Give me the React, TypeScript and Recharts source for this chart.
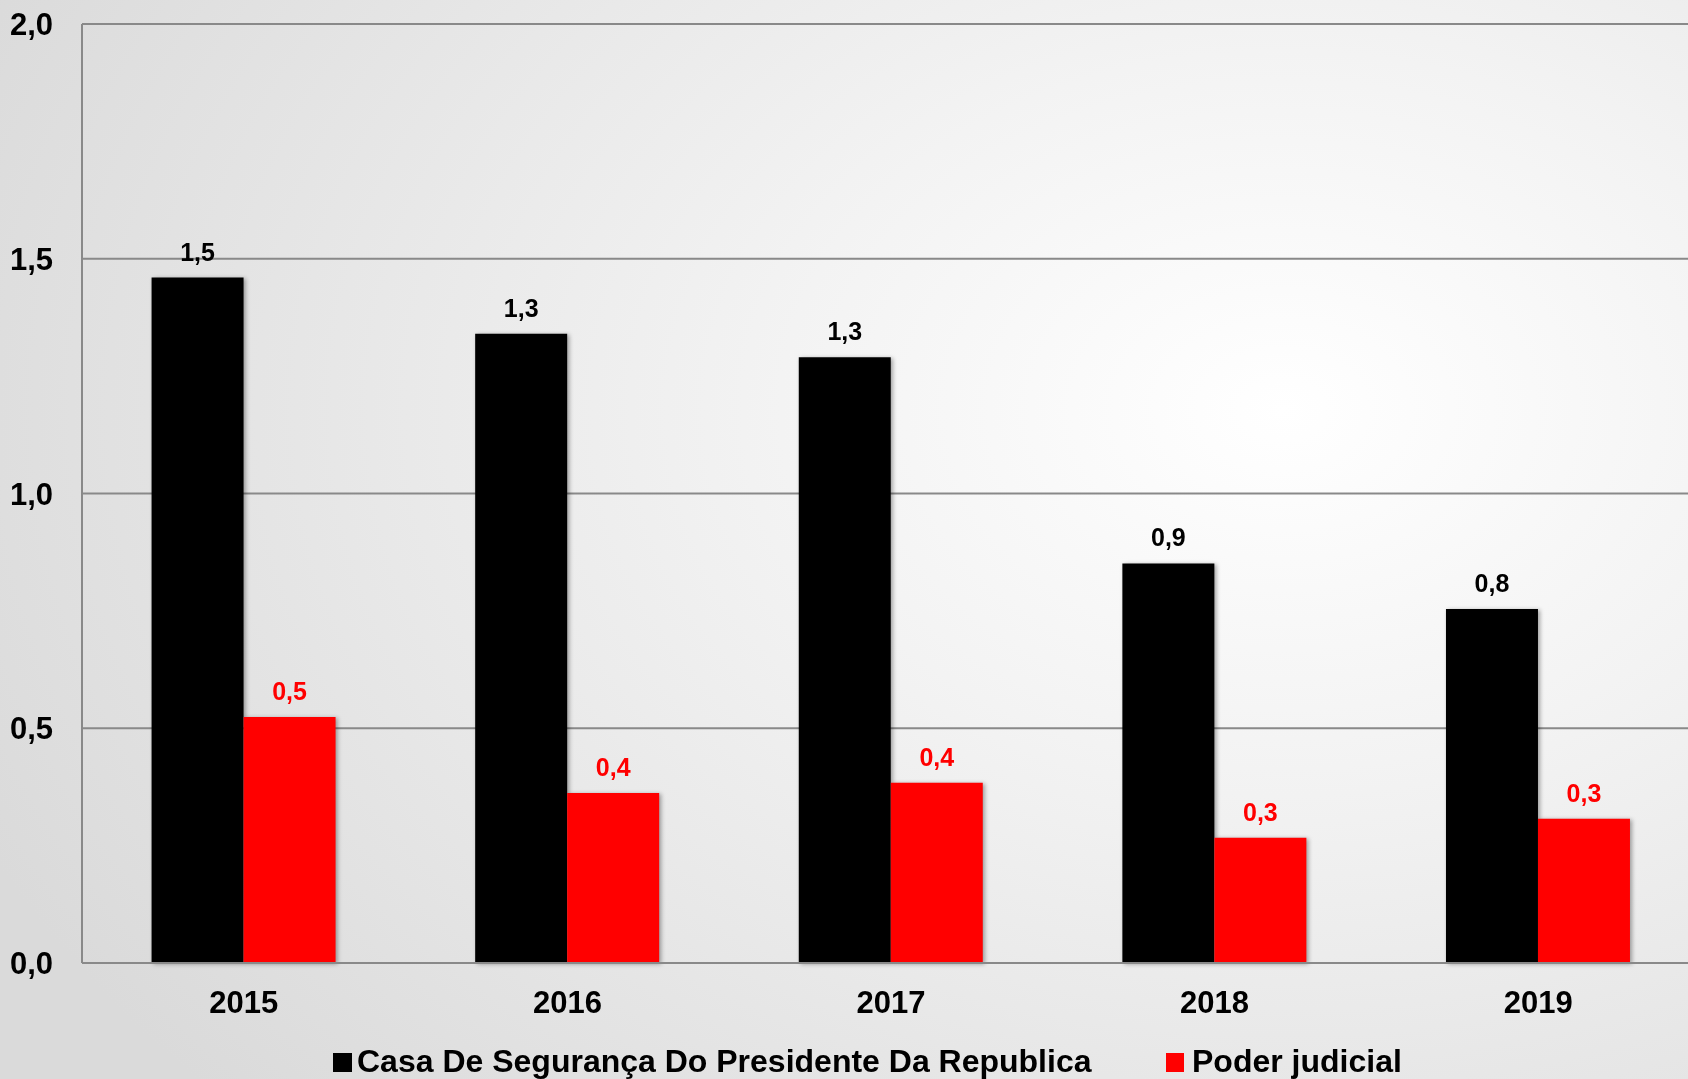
import React from 'react';
import { BarChart, Bar, XAxis, YAxis, CartesianGrid, Legend, LabelList } from 'recharts';

const years = ['2015', '2016', '2017', '2018', '2019'];
const casaSeguranca = [1.46, 1.34, 1.29, 0.851, 0.754];
const poderJudicial = [0.524, 0.362, 0.384, 0.267, 0.307];
const yTicks = [0, 0.5, 1, 1.5, 2];

const data = years.map((y, i) => ({ year: y, casa: casaSeguranca[i], poder: poderJudicial[i] }));

const fmt = (v: number) => v.toFixed(1).replace('.', ',');
const FONT = "'Liberation Sans', Arial, sans-serif";

// legenda desenhada à mão para controlar a posição
const LegendContent = () => (
  <div style={{ height: 40, position: 'relative', fontFamily: FONT, fontWeight: 'bold', fontSize: 32, color: '#000' }}>
    <div style={{ position: 'absolute', left: 333, top: 14, width: 19, height: 19, background: '#000' }} />
    <span style={{ position: 'absolute', left: 357, top: 4, whiteSpace: 'nowrap' }}>Casa De Segurança Do Presidente Da Republica</span>
    <div style={{ position: 'absolute', left: 1166, top: 14, width: 18, height: 19, background: '#ff0000' }} />
    <span style={{ position: 'absolute', left: 1192, top: 4, whiteSpace: 'nowrap' }}>Poder judicial</span>
  </div>
);

export default function App() {
  return (
    <div
      style={{
        position: 'fixed',
        left: 0,
        top: 0,
        width: 1688,
        height: 1079,
        overflow: 'hidden',
        background: 'radial-gradient(ellipse 85% 95% at 76% 38%, #ffffff 0%, #f3f3f3 35%, #dadada 100%)',
      }}
    >
      <style>{`.recharts-bar-rectangle path { filter: drop-shadow(2px 1px 2px rgba(0,0,0,0.35)); }`}</style>
      <BarChart
        width={1700}
        height={1079}
        data={data}
        margin={{ top: 24, right: 0, bottom: 0, left: 0 }}
        barCategoryGap="21.5%"
        barGap={0}
      >
        <CartesianGrid vertical={false} stroke="#898989" strokeWidth={2} />
        <XAxis
          dataKey="year"
          height={76}
          tickLine={false}
          tickSize={0}
          tickMargin={28}
          axisLine={{ stroke: '#898989', strokeWidth: 2 }}
          tick={{ fill: '#000', fontSize: 31, fontWeight: 'bold', fontFamily: FONT }}
        />
        <YAxis
          width={82}
          domain={[0, 2]}
          ticks={yTicks}
          tickFormatter={fmt}
          tickLine={false}
          tickSize={0}
          tickMargin={29}
          axisLine={{ stroke: '#898989', strokeWidth: 2 }}
          tick={{ fill: '#000', fontSize: 31, fontWeight: 'bold', fontFamily: FONT }}
        />
        <Legend verticalAlign="bottom" wrapperStyle={{ left: 0, width: 1700 }} content={() => <LegendContent />} />
        <Bar dataKey="casa" name="Casa De Segurança Do Presidente Da Republica" fill="#000000" isAnimationActive={false}>
          <LabelList
            dataKey="casa"
            position="top"
            offset={17}
            formatter={(v: any) => fmt(Number(v))}
            style={{ fill: '#000', fontSize: 25, fontWeight: 'bold', fontFamily: FONT }}
          />
        </Bar>
        <Bar dataKey="poder" name="Poder judicial" fill="#ff0000" isAnimationActive={false}>
          <LabelList
            dataKey="poder"
            position="top"
            offset={17}
            formatter={(v: any) => fmt(Number(v))}
            style={{ fill: '#ff0000', fontSize: 25, fontWeight: 'bold', fontFamily: FONT }}
          />
        </Bar>
      </BarChart>
    </div>
  );
}
